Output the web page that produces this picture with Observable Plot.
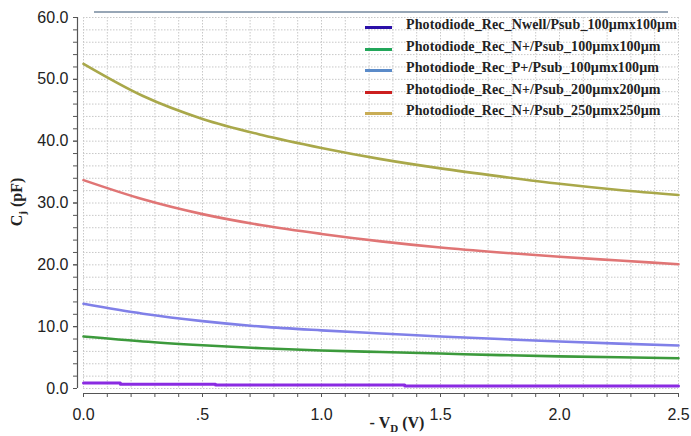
<!DOCTYPE html>
<html>
<head>
<meta charset="utf-8">
<script src="https://cdn.jsdelivr.net/npm/d3@7"></script>
<script src="https://cdn.jsdelivr.net/npm/@observablehq/plot@0.6"></script>
<style>
  html, body { margin: 0; padding: 0; background: #fff; }
  #wrap { position: relative; width: 691px; height: 436px; }
  #topline { position: absolute; top: 11px; left: 94px; width: 574px; height: 0; border-top: 2px solid #97a6b6; }
  #legend { position: absolute; left: 365px; top: 17px; font-family: "Liberation Serif", serif; font-weight: bold; font-size: 14px; letter-spacing: 0.1px; color: #222; }
  .row { position: absolute; left: 0; height: 20px; white-space: nowrap; }
  .sw { position: absolute; left: 0; top: 9px; width: 27px; height: 3px; }
  .lab { position: absolute; left: 41px; top: 0px; }
</style>
</head>
<body>
<div id="wrap"><div id="topline"></div><div id="legend"></div></div>
<script>
// ---- data ----
const names = [
  "Photodiode_Rec_Nwell/Psub_100µmx100µm",
  "Photodiode_Rec_N+/Psub_100µmx100µm",
  "Photodiode_Rec_P+/Psub_100µmx100µm",
  "Photodiode_Rec_N+/Psub_200µmx200µm",
  "Photodiode_Rec_N+/Psub_250µmx250µm"
];
const lineColors = ["#8a2be2", "#3c9a3c", "#8080e8", "#e07575", "#a9a84a"];
const legendColors = ["#2b10a8", "#22a65a", "#5b8bc9", "#cc1f1f", "#c9ad55"];

const xs = [0, 0.25, 0.5, 0.75, 1.0, 1.25, 1.5, 1.75, 2.0, 2.25, 2.5];
const n250 = [52.5, 47.3, 43.6, 41.0, 38.9, 37.1, 35.6, 34.3, 33.1, 32.1, 31.3];
const n200 = [33.7, 30.6, 28.2, 26.4, 25.0, 23.8, 22.8, 22.0, 21.3, 20.7, 20.1];
const p100 = [13.7, 12.1, 10.9, 10.0, 9.4, 8.9, 8.4, 8.0, 7.6, 7.25, 6.95];
const n100 = [8.4, 7.6, 7.0, 6.5, 6.15, 5.9, 5.65, 5.4, 5.2, 5.05, 4.9];
const nwellX = [0, 0.155, 0.555, 1.35, 2.5];
const nwell = [0.9, 0.7, 0.55, 0.4, 0.4];

const xDomain = [0, 2.5];
const yDomain = [0, 60];
const xMajor = [0, 0.5, 1.0, 1.5, 2.0, 2.5];
const xMajorLabels = ["0.0", ".5", "1.0", "1.5", "2.0", "2.5"];
const yMajor = [0, 10, 20, 30, 40, 50, 60];
const xMinor = d3.range(0, 26).map(i => i / 10);
const yMinor = d3.range(0, 31).map(i => i * 2);

// ---- tables ----
const smooth = [n100, p100, n200, n250].map((vals, k) =>
  xs.map((x, i) => ({x, y: vals[i], s: k + 1})));
const stepData = nwellX.map((x, i) => ({x, y: nwell[i], s: 0}));

const fontSans = "'Liberation Sans', Arial, sans-serif";

const svg = Plot.plot({
  width: 691,
  height: 436,
  marginLeft: 83,
  marginRight: 13,
  marginTop: 17,
  marginBottom: 48,
  style: {fontFamily: fontSans, fontSize: "15px", color: "#222", background: "transparent"},
  x: {domain: xDomain, label: null},
  y: {domain: yDomain, label: null},
  marks: [
    Plot.gridX(xMinor, {stroke: "#c8c8c8", strokeOpacity: 1, strokeDasharray: "1.5,1.5"}),
    Plot.gridY(yMinor, {stroke: "#c8c8c8", strokeOpacity: 1, strokeDasharray: "1.5,1.5"}),
    Plot.ruleX([xDomain[0]], {dx: -6, stroke: "#555", strokeWidth: 1.2}),
    Plot.ruleY([yDomain[0]], {dy: 5, stroke: "#555", strokeWidth: 1.2}),
    Plot.axisY(yMinor, {dx: -6, tickSize: 4, tickFormat: () => "", stroke: "#555", label: null}),
    Plot.axisY(yMajor, {dx: -6, tickSize: 4, tickPadding: 5, tickFormat: d3.format(".1f"), stroke: "#555", fontSize: 16, fill: "#222", label: null}),
    Plot.axisX(xMinor, {dy: 5, tickSize: 4, tickFormat: () => "", stroke: "#555", label: null}),
    Plot.axisX(xMajor, {dy: 5, tickSize: 4, tickPadding: 11, tickFormat: (d) => xMajorLabels[xMajor.indexOf(d)], stroke: "#555", fontSize: 16, fill: "#222", label: null}),
    ...smooth.map((data, k) => Plot.line(data, {x: "x", y: "y", curve: "monotone-x", stroke: lineColors[k + 1], strokeWidth: 2.6})),
    Plot.line(stepData, {x: "x", y: "y", curve: "step-after", stroke: lineColors[0], strokeWidth: 3})
  ]
});

document.getElementById("wrap").prepend(svg);
svg.style.position = "absolute";
svg.style.left = "0";
svg.style.top = "0";

const s = d3.select(svg);
// y label
const yl = s.append("text")
  .attr("transform", "translate(22,202) rotate(-90)")
  .attr("text-anchor", "middle")
  .attr("font-family", "'Liberation Serif', serif")
  .attr("font-weight", "bold")
  .attr("font-size", 16)
  .attr("fill", "#222");
yl.append("tspan").text("C");
yl.append("tspan").attr("font-size", 11).attr("dy", 4).text("j");
yl.append("tspan").attr("dy", -4).text(" (pF)");
// x label
const xl = s.append("text")
  .attr("x", 397).attr("y", 428)
  .attr("text-anchor", "middle")
  .attr("font-family", "'Liberation Serif', serif")
  .attr("font-weight", "bold")
  .attr("font-size", 16)
  .attr("fill", "#222");
xl.append("tspan").text("- V");
xl.append("tspan").attr("font-size", 11).attr("dy", 4).text("D");
xl.append("tspan").attr("dy", -4).text(" (V)");

// legend
const legend = document.getElementById("legend");
names.forEach((n, i) => {
  const row = document.createElement("div");
  row.className = "row";
  row.style.top = (i * 21.5) + "px";
  const sw = document.createElement("div");
  sw.className = "sw";
  sw.style.background = legendColors[i];
  const lab = document.createElement("div");
  lab.className = "lab";
  lab.textContent = n;
  row.appendChild(sw);
  row.appendChild(lab);
  legend.appendChild(row);
});
</script>
</body>
</html>
